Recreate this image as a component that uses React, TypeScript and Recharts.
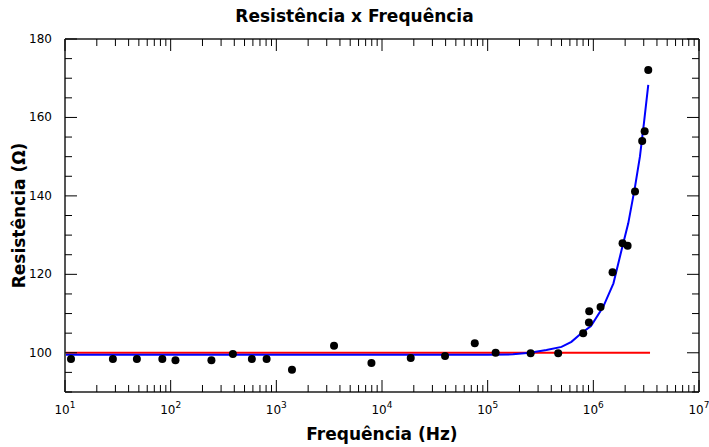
import { ComposedChart, Line, Scatter, XAxis, YAxis } from "recharts";

// measured points (Hz, Ohm)
const freqHz = [
  11.4, 28.4, 47.9, 83.4, 111, 243, 388, 587, 809, 1406, 3516, 7943,
  18700, 39500, 75500, 119000, 255000, 465000, 802000, 908000, 914000,
  1170000, 1520000, 1890000, 2110000, 2480000, 2900000, 3060000, 3310000,
];
const resistOhm = [
  98.4, 98.4, 98.4, 98.4, 98.1, 98.1, 99.7, 98.4, 98.4, 95.7, 101.8, 97.4,
  98.7, 99.2, 102.4, 100, 99.9, 99.9, 105, 107.7, 110.6, 111.7, 120.5,
  127.9, 127.3, 141.1, 154, 156.5, 172.1,
];

// fitted curve (blue)
const fitFreq = [
  10, 1000, 100000, 174000, 250000, 360000, 500000, 620000, 770000, 950000,
  1240000, 1550000, 1850000, 2140000, 2480000, 2760000, 3010000, 3310000,
];
const fitOhm = [
  99.5, 99.5, 99.5, 99.6, 100, 100.7, 101.5, 102.8, 105, 106.8, 111.7,
  117.7, 126.2, 133, 142.3, 150, 158.5, 168.3,
];

// reference line (red)
const refFreq = [10, 3440000];
const refOhm = [100, 100];

const decades = [10, 100, 1e3, 1e4, 1e5, 1e6, 1e7];
const yTicks = [90, 95, 100, 105, 110, 115, 120, 125, 130, 135, 140, 145, 150, 155, 160, 165, 170, 175, 180];
const yLabels = [100, 120, 140, 160, 180];

const points = freqHz.map((f, i) => ({ f, r: resistOhm[i] }));
const fit = fitFreq.map((f, i) => ({ f, r: fitOhm[i] }));
const ref = refFreq.map((f, i) => ({ f, r: refOhm[i] }));

const xTicks = decades.flatMap((d, i) =>
  i === decades.length - 1 ? [d] : [1, 2, 3, 4, 5, 6, 7, 8, 9].map((m) => d * m)
);

const FONT = "'DejaVu Sans', Verdana, sans-serif";
const frame = { stroke: "#555", strokeWidth: 2 };

function isDecade(v: number) {
  const e = Math.round(Math.log10(v));
  return Math.abs(v - Math.pow(10, e)) < 1e-6 * v;
}

function BottomTick({ x, y, payload }: any) {
  const v = payload.value;
  const major = isDecade(v);
  const exp = Math.round(Math.log10(v));
  return (
    <g>
      <line x1={x} x2={x} y1={y} y2={y - (major ? 12 : 7)} stroke="#000" />
      {major && (
        <text x={x} y={y + 22} textAnchor="middle" fontSize={12} fill="#000" fontFamily={FONT}>
          10
          <tspan dy={-6} fontSize={9}>
            {exp}
          </tspan>
        </text>
      )}
    </g>
  );
}

function TopTick({ x, y, payload }: any) {
  const major = isDecade(payload.value);
  return <line x1={x} x2={x} y1={y} y2={y + (major ? 12 : 7)} stroke="#000" />;
}

function LeftTick({ x, y, payload }: any) {
  const v = payload.value;
  const major = v % 20 === 0;
  return (
    <g>
      <line x1={x} x2={x + (major ? 12 : 7)} y1={y} y2={y} stroke="#000" />
      {yLabels.includes(v) && (
        <text x={x - 13} y={y + 4} textAnchor="end" fontSize={12} fill="#000" fontFamily={FONT}>
          {v}
        </text>
      )}
    </g>
  );
}

function RightTick({ x, y, payload }: any) {
  const major = payload.value % 20 === 0;
  return <line x1={x} x2={x - (major ? 12 : 7)} y1={y} y2={y} stroke="#000" />;
}

export default function App() {
  return (
    <div style={{ position: "absolute", left: 0, top: 0, width: 709, height: 447, fontFamily: FONT }}>
      <div
        style={{
          position: "absolute",
          top: 6,
          left: 0,
          width: 709,
          textAlign: "center",
          fontSize: 17,
          fontWeight: 700,
          color: "#000",
        }}
      >
        Resistência x Frequência
      </div>
      <ComposedChart width={709} height={447} margin={{ top: 38, right: 9, bottom: 5, left: 5 }}>
        <XAxis
          dataKey="f"
          type="number"
          scale="log"
          domain={[10, 1e7]}
          allowDataOverflow
          ticks={xTicks}
          interval={0}
          tickSize={0}
          tickMargin={0}
          tickLine={false}
          axisLine={frame}
          tick={BottomTick}
          height={50}
          label={{
            value: "Frequência (Hz)",
            position: "insideBottom",
            offset: 2,
            fontSize: 17,
            fontWeight: 700,
            fill: "#000",
            fontFamily: FONT,
          }}
        />
        <XAxis
          xAxisId="top"
          orientation="top"
          dataKey="f"
          type="number"
          scale="log"
          domain={[10, 1e7]}
          allowDataOverflow
          ticks={xTicks}
          interval={0}
          tickSize={0}
          tickMargin={0}
          tickLine={false}
          axisLine={frame}
          tick={TopTick}
          height={1}
        />
        <YAxis
          type="number"
          domain={[90, 180]}
          allowDataOverflow
          ticks={yTicks}
          interval={0}
          tickSize={0}
          tickMargin={0}
          tickLine={false}
          axisLine={frame}
          tick={LeftTick}
          width={60}
          label={{
            value: "Resistência (Ω)",
            angle: -90,
            position: "insideLeft",
            offset: 14,
            fontSize: 17,
            fontWeight: 700,
            fill: "#000",
            fontFamily: FONT,
            style: { textAnchor: "middle" },
          }}
        />
        <YAxis
          yAxisId="right"
          orientation="right"
          type="number"
          domain={[90, 180]}
          allowDataOverflow
          ticks={yTicks}
          interval={0}
          tickSize={0}
          tickMargin={0}
          tickLine={false}
          axisLine={frame}
          tick={RightTick}
          width={1}
        />
        <Line
          data={ref}
          dataKey="r"
          type="linear"
          stroke="#ff0000"
          strokeWidth={2}
          dot={false}
          isAnimationActive={false}
        />
        <Line
          data={fit}
          dataKey="r"
          type="linear"
          stroke="#0000ff"
          strokeWidth={2}
          dot={false}
          isAnimationActive={false}
        />
        <Scatter
          data={points}
          dataKey="r"
          fill="#000"
          isAnimationActive={false}
          shape={(p: any) => <circle cx={p.cx} cy={p.cy} r={4} fill="#000" />}
        />
      </ComposedChart>
    </div>
  );
}
